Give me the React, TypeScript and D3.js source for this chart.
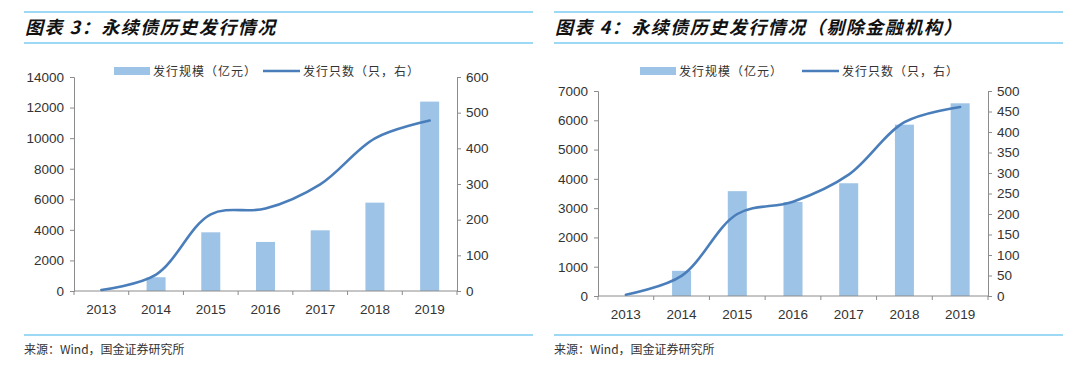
import React, { useEffect, useRef } from 'react';
import * as d3 from 'd3';

// data
const years = ['2013', '2014', '2015', '2016', '2017', '2018', '2019'];
const issueAll = [0, 900, 3840, 3210, 3970, 5780, 12390];
const countAll = [3, 46, 215, 231, 299, 428, 478];
const issueExFin = [0, 860, 3580, 3210, 3850, 5850, 6580];
const countExFin = [3, 49, 200, 230, 296, 424, 461];

const leftTicksA = [0, 2000, 4000, 6000, 8000, 10000, 12000, 14000];
const rightTicksA = [0, 100, 200, 300, 400, 500, 600];
const leftTicksB = [0, 1000, 2000, 3000, 4000, 5000, 6000, 7000];
const rightTicksB = [0, 50, 100, 150, 200, 250, 300, 350, 400, 450, 500];

const BAR = '#9dc3e6';
const LINE = '#4a7ebb';
const RULE = '#7ccbf0';
const AXIS = '#8c8c8c';
const TEXT = '#333';
const NUM_FONT = '"Liberation Sans", Arial, sans-serif';
const CJK_FONT = '"Noto Sans CJK SC", sans-serif';

const App = () => {
    const ref = useRef();

    useEffect(() => {
        document.body.style.margin = '0';
        const svg = d3.select(ref.current);
        svg.selectAll('*').remove();

        const drawPanel = (p) => {
            const g = svg.append('g');

            // rules + title + source
            [12, 43, 335].forEach(y => {
                g.append('line')
                    .attr('x1', p.x0).attr('x2', p.x1)
                    .attr('y1', y).attr('y2', y)
                    .attr('stroke', RULE).attr('stroke-width', 1.6);
            });
            g.append('text')
                .attr('x', p.x0 + 1).attr('y', 34)
                .attr('font-family', CJK_FONT)
                .attr('font-size', 18).attr('font-weight', 'bold')
                .attr('font-style', 'italic')
                .attr('letter-spacing', 1.5)
                .attr('fill', '#111')
                .text(p.title);
            g.append('text')
                .attr('x', p.x0).attr('y', 354)
                .attr('font-family', CJK_FONT)
                .attr('font-size', 12).attr('fill', TEXT)
                .text('来源：Wind，国金证券研究所');

            const x = d3.scaleBand().domain(years).range([p.left, p.right]);
            const yL = d3.scaleLinear().domain([0, p.leftMax]).range([p.bottom, p.top]);
            const yR = d3.scaleLinear().domain([0, p.rightMax]).range([p.bottom, p.top]);
            const barW = 19;

            // bars
            g.append('g').selectAll('rect')
                .data(p.bars)
                .join('rect')
                .attr('x', (d, i) => x(years[i]) + x.bandwidth() / 2 - barW / 2)
                .attr('y', d => yL(d))
                .attr('width', barW)
                .attr('height', d => p.bottom - yL(d))
                .attr('fill', BAR);

            const fmt = d3.format('d');
            // left axis
            const axL = g.append('g')
                .attr('transform', `translate(${p.left},0)`)
                .call(d3.axisLeft(yL).tickValues(p.leftTicks).tickFormat(fmt).tickSize(4).tickPadding(6));
            // right axis
            const axR = g.append('g')
                .attr('transform', `translate(${p.right},0)`)
                .call(d3.axisRight(yR).tickValues(p.rightTicks).tickFormat(fmt).tickSize(4).tickPadding(5));
            // bottom axis: ticks between categories
            const axB = g.append('g')
                .attr('transform', `translate(0,${p.bottom})`);
            axB.append('line')
                .attr('x1', p.left).attr('x2', p.right)
                .attr('stroke', AXIS);
            axB.selectAll('.tk')
                .data(d3.range(years.length + 1))
                .join('line')
                .attr('class', 'tk')
                .attr('x1', i => p.left + i * x.bandwidth())
                .attr('x2', i => p.left + i * x.bandwidth())
                .attr('y1', 0).attr('y2', 4)
                .attr('stroke', AXIS);
            axB.selectAll('text')
                .data(years)
                .join('text')
                .attr('x', d => x(d) + x.bandwidth() / 2)
                .attr('y', 23)
                .attr('text-anchor', 'middle')
                .text(d => d);

            [axL, axR, axB].forEach(a => {
                a.selectAll('path, line').attr('stroke', AXIS);
                a.selectAll('text')
                    .attr('font-family', NUM_FONT)
                    .attr('font-size', 13.5)
                    .attr('fill', TEXT);
            });

            // smoothed count line
            const line = d3.line()
                .x((d, i) => x(years[i]) + x.bandwidth() / 2)
                .y(d => yR(d))
                .curve(d3.curveCatmullRom.alpha(0.5));
            g.append('path')
                .datum(p.line)
                .attr('fill', 'none')
                .attr('stroke', LINE)
                .attr('stroke-width', 2.6)
                .attr('stroke-linecap', 'round')
                .attr('d', line);

            // legend
            const lg = g.append('g')
                .attr('font-family', CJK_FONT)
                .attr('font-size', 12)
                .attr('fill', TEXT);
            lg.append('rect')
                .attr('x', p.legX).attr('y', 67)
                .attr('width', 36).attr('height', 8)
                .attr('fill', BAR);
            lg.append('text')
                .attr('x', p.legX + 39).attr('y', 75.5)
                .attr('letter-spacing', 1)
                .text('发行规模（亿元）');
            lg.append('line')
                .attr('x1', p.legX2).attr('x2', p.legX2 + 37)
                .attr('y1', 71).attr('y2', 71)
                .attr('stroke', LINE).attr('stroke-width', 2.6);
            lg.append('text')
                .attr('x', p.legX2 + 40).attr('y', 75.5)
                .attr('letter-spacing', 1)
                .text('发行只数（只，右）');
        };

        drawPanel({
            x0: 24, x1: 533,
            title: '图表 3：永续债历史发行情况',
            left: 74, right: 457, top: 77, bottom: 291,
            leftMax: 14000, rightMax: 600,
            leftTicks: leftTicksA, rightTicks: rightTicksA,
            bars: issueAll, line: countAll,
            legX: 114, legX2: 263,
        });

        drawPanel({
            x0: 554, x1: 1063,
            title: '图表 4：永续债历史发行情况（剔除金融机构）',
            left: 598, right: 988, top: 91, bottom: 296,
            leftMax: 7000, rightMax: 500,
            leftTicks: leftTicksB, rightTicks: rightTicksB,
            bars: issueExFin, line: countExFin,
            legX: 640, legX2: 802,
        });
    }, []);

    return <svg ref={ref} width="1080" height="366" style={{ display: 'block' }}></svg>;
};

export default App;
